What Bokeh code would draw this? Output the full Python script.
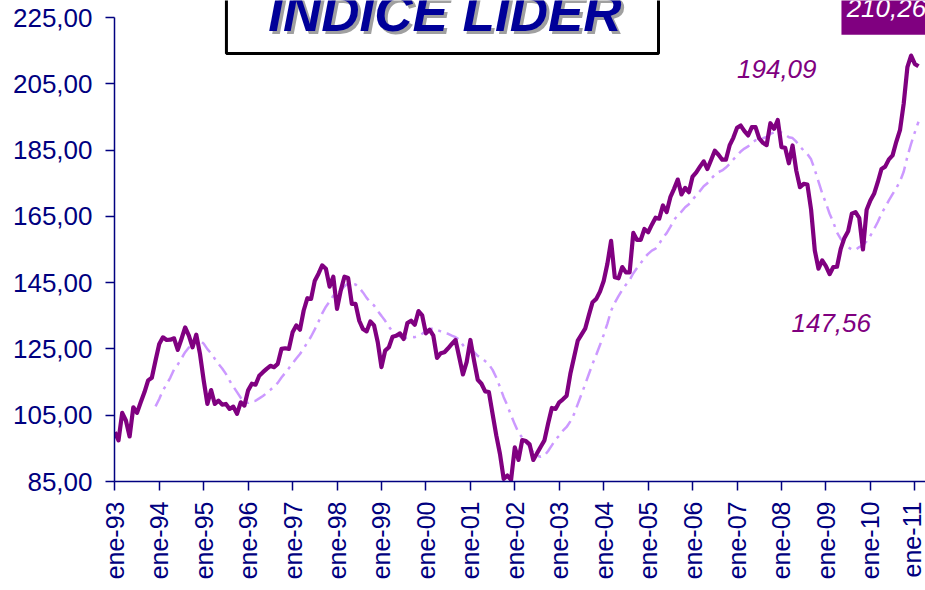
import math
import pandas as pd
from bokeh.plotting import figure
from bokeh.models import FixedTicker, Range1d, Label, BoxAnnotation, ColumnDataSource
from bokeh.embed import file_html
from bokeh.resources import INLINE

# Monthly values of the "Indice Lider", Jan 1993 .. Feb 2011
v1993 = [99.9, 97.4, 105.7, 103.4, 98.6, 107.4, 105.7, 108.9, 111.9, 115.5, 116.3, 121.5]
v1994 = [126.5, 128.5, 127.7, 127.8, 128.2, 124.7, 128.0, 131.5, 129.0, 125.5, 129.3, 123.5]
v1995 = [115.5, 108.4, 112.6, 108.4, 109.4, 108.2, 108.4, 106.9, 107.6, 105.4, 108.9, 107.9]
v1996 = [112.5, 114.5, 114.2, 116.9, 118.0, 119.0, 119.9, 119.5, 120.5, 125.0, 125.2, 125.0]
v1997 = [130.0, 132.1, 130.8, 136.6, 140.3, 140.1, 145.6, 147.7, 150.2, 149.2, 143.8, 146.8]
v1998 = [137.1, 142.6, 146.8, 146.4, 138.6, 138.6, 133.5, 131.0, 130.3, 133.3, 132.1, 127.0]
v1999 = [119.5, 124.5, 125.5, 128.7, 129.0, 129.7, 128.0, 132.8, 133.5, 132.3, 136.4, 135.1]
v2000 = [129.7, 130.8, 129.0, 122.3, 123.7, 124.0, 125.2, 126.5, 127.7, 122.5, 117.3, 121.0]
v2001 = [127.7, 121.5, 115.7, 114.5, 112.2, 112.0, 105.4, 98.9, 93.3, 85.8, 86.8, 85.5]
v2002 = [95.3, 91.5, 97.5, 97.2, 96.2, 91.5, 93.5, 95.5, 97.4, 102.5, 107.2, 106.9]
v2003 = [108.9, 109.8, 110.9, 117.5, 122.5, 127.5, 129.3, 131.1, 135.2, 139.1, 140.1, 142.3]
v2004 = [145.5, 150.7, 157.6, 146.6, 146.3, 149.7, 148.1, 148.1, 160.0, 157.9, 157.9, 161.2]
v2005 = [160.2, 162.5, 164.6, 164.3, 168.3, 166.3, 170.8, 173.3, 176.1, 171.6, 173.6, 172.3]
v2006 = [177.0, 178.3, 180.0, 181.6, 179.3, 182.0, 184.8, 183.6, 182.1, 182.1, 186.4, 188.7]
v2007 = [191.7, 192.4, 190.7, 189.4, 191.9, 191.9, 188.5, 187.2, 186.5, 193.1, 191.4, 194.09]
v2008 = [185.9, 185.7, 181.0, 186.4, 178.8, 173.8, 174.8, 174.6, 167.0, 154.7, 149.2, 151.7]
v2009 = [150.0, 147.56, 149.7, 149.8, 155.2, 158.5, 160.5, 165.8, 166.3, 164.5, 155.0, 167.0]
v2010 = [169.8, 171.8, 175.3, 179.3, 180.0, 182.2, 183.4, 187.5, 191.0, 199.0, 210.0, 213.5]
v2011 = [211.0, 210.26]

indice = (v1993 + v1994 + v1995 + v1996 + v1997 + v1998 + v1999 + v2000 + v2001
          + v2002 + v2003 + v2004 + v2005 + v2006 + v2007 + v2008 + v2009 + v2010 + v2011)
meses = list(range(len(indice)))
# 12-period moving-average trendline of the series (as in the original chart)
media12 = pd.Series(indice).rolling(12).mean()

x_tick_labels = ["ene-93", "ene-94", "ene-95", "ene-96", "ene-97", "ene-98", "ene-99",
                 "ene-00", "ene-01", "ene-02", "ene-03", "ene-04", "ene-05", "ene-06",
                 "ene-07", "ene-08", "ene-09", "ene-10", "ene-11"]
y_ticks = [85, 105, 125, 145, 165, 185, 205, 225]
y_tick_labels = ["85,00", "105,00", "125,00", "145,00", "165,00", "185,00", "205,00", "225,00"]

title_text = "INDICE LIDER"
max_label = "194,09"
min_label = "147,56"
last_label = "210,26"

src = ColumnDataSource(dict(mes=meses, indice=indice, media=media12))

NAVY = "#000080"
FONT = "Liberation Sans"

p = figure(width=925, height=590,
           x_range=Range1d(-0.08, 218.89), y_range=Range1d(85, 230.13),
           output_backend="svg", toolbar_location=None,
           min_border_left=114, min_border_right=0, min_border_top=0, min_border_bottom=109)
p.outline_line_color = None
p.grid.visible = False
p.background_fill_color = "white"
p.border_fill_color = "white"

p.line("mes", "media", source=src, line_color="#CC99FF", line_width=2.5, line_dash="13 6 3 6")
p.line("mes", "indice", source=src, line_color="#800080", line_width=4.2, line_join="round")

# axes
x_ticks = [12 * i for i in range(len(x_tick_labels))]
p.xaxis.ticker = FixedTicker(ticks=x_ticks)
p.xaxis.major_label_overrides = {t: l for t, l in zip(x_ticks, x_tick_labels)}
p.xaxis.major_label_orientation = math.pi / 2
p.yaxis.ticker = FixedTicker(ticks=y_ticks)
p.yaxis.major_label_overrides = {t: l for t, l in zip(y_ticks, y_tick_labels)}
p.yaxis.bounds = (85, 225)

for ax in (p.xaxis[0], p.yaxis[0]):
    ax.axis_line_color = NAVY
    ax.axis_line_width = 1.5
    ax.major_tick_line_color = NAVY
    ax.major_tick_line_width = 1.5
    ax.major_tick_out = 9
    ax.major_tick_in = 0
    ax.minor_tick_line_color = None
    ax.major_label_text_color = NAVY
    ax.major_label_text_font = FONT
p.yaxis.major_label_text_font_size = "26px"
p.yaxis.major_label_standoff = 13
p.xaxis.major_label_text_font_size = "25px"
p.xaxis.major_label_standoff = 11

# title box
p.add_layout(BoxAnnotation(left=30.14, right=146.8, bottom=214.14, top=236,
                           fill_color="white", fill_alpha=1.0,
                           line_color="black", line_alpha=1.0, line_width=3, level="overlay"))
p.add_layout(Label(x=89.14, y=226.5, text=title_text, text_align="center",
                   text_baseline="alphabetic", x_offset=3, y_offset=-3,
                   text_font=FONT, text_font_size="53px", text_font_style="bold italic",
                   text_color="#A0A0A0", level="overlay"))
p.add_layout(Label(x=89.14, y=226.5, text=title_text, text_align="center",
                   text_baseline="alphabetic",
                   text_font=FONT, text_font_size="53px", text_font_style="bold italic",
                   text_color="#000099", level="overlay"))

# value labels
p.add_layout(Label(x=168.0, y=209.6, text=max_label, text_baseline="alphabetic",
                   text_font=FONT, text_font_size="26px", text_font_style="italic",
                   text_color="#800080"))
p.add_layout(Label(x=182.7, y=132.7, text=min_label, text_baseline="alphabetic",
                   text_font=FONT, text_font_size="26px", text_font_style="italic",
                   text_color="#800080"))
p.add_layout(BoxAnnotation(left=196.2, right=236, bottom=219.78, top=236,
                           fill_color="#800080", fill_alpha=1.0, line_color=None,
                           level="overlay"))
p.add_layout(Label(x=197.6, y=227.9, text=last_label, text_baseline="alphabetic",
                   text_font=FONT, text_font_size="26px", text_font_style="italic",
                   text_color="white", level="overlay"))

open("out.html", "w").write(file_html(p, INLINE))
